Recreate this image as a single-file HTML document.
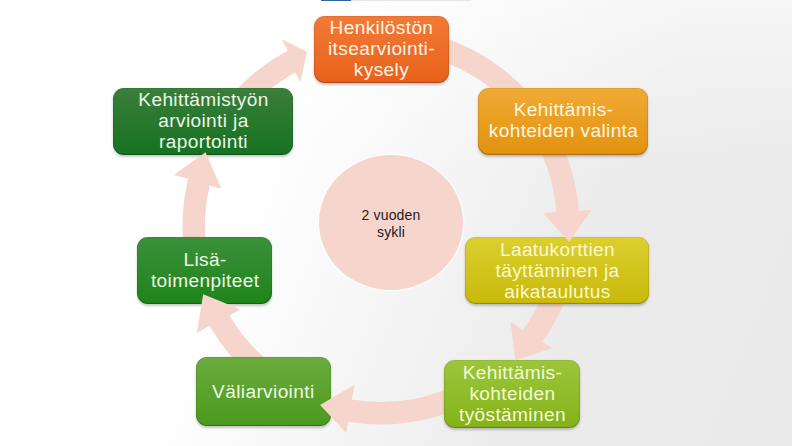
<!DOCTYPE html>
<html><head><meta charset="utf-8"><style>
html,body{margin:0;padding:0;}
body{width:792px;height:446px;overflow:hidden;position:relative;font-family:"Liberation Sans",sans-serif;
background:linear-gradient(180deg,rgba(255,255,255,0.55) 0%,rgba(255,255,255,0) 40%),linear-gradient(112deg,#ffffff 0%,#ffffff 33%,#ebebeb 72%,#eaeaea 100%);}
.topbar{position:absolute;left:321px;top:0;width:150px;height:1px;background:#e6e6e6;}
.topbar i{position:absolute;left:0;top:0;width:30px;height:1px;background:#2f6497;}
.circle{position:absolute;left:319px;top:155px;width:144px;height:135px;border-radius:50%;background:#f6d6cc;box-shadow:0 0 0 1.5px rgba(255,255,255,0.6);}
.ctext{position:absolute;left:319px;top:155px;width:144px;height:135px;display:flex;align-items:center;justify-content:center;text-align:center;font-size:14px;line-height:17px;letter-spacing:0.15px;color:#221a1a;padding-top:1px;}
.arr{position:absolute;left:0;top:0;}
.box{position:absolute;border-radius:11px;box-shadow:inset 0 -1px 1px rgba(0,0,0,0.22),inset 0 0 0 0.6px rgba(0,0,0,0.12),0 1.5px 2.5px rgba(0,0,0,0.22);display:flex;align-items:center;justify-content:center;}
.t{color:#fffbe8;font-size:18px;line-height:21px;letter-spacing:0.35px;margin-left:0.35px;margin-top:1.4px;transform:scaleX(1.06);text-align:center;white-space:nowrap;}
</style></head><body>
<div class="topbar"><i></i></div>
<div class="circle"></div>
<div class="ctext">2 vuoden<br>sykli</div>
<svg class="arr" width="792" height="446" viewBox="0 0 792 446"><path d="M415.5,30.5 A198.5,198.5 0 0 1 543.6,112.1 L554.7,104.4 L551.3,142.9 L513.7,133.1 L525.2,125.1 A176,176 0 0 0 411.6,52.7 Z" fill="#f6d5cc"/></svg><svg class="arr" width="792" height="446" viewBox="0 0 792 446"><path d="M209.1,126.7 A198.5,198.5 0 0 1 287.8,50.7 L281.7,39.3 L307.0,51.7 L300.5,82.0 L295.1,72.4 A176,176 0 0 0 228.6,138.0 Z" fill="#f6d5cc"/></svg><div class="box" style="left:113px;top:88px;width:180px;height:67px;background:linear-gradient(180deg,#3a7e3a,#167222);"><div class="t" style="color:#ecf7e8;margin-top:-0.8px">Kehittämistyön<br>arviointi ja<br>raportointi</div></div><svg class="arr" width="792" height="446" viewBox="0 0 792 446"><path d="M189.3,277.4 A198.5,198.5 0 0 1 188.2,178.7 L173.7,175.1 L205.5,152.2 L221.3,188.6 L209.7,185.8 A176,176 0 0 0 211.0,271.6 Z" fill="#f6d5cc"/></svg><div class="box" style="left:137px;top:237px;width:135px;height:67px;background:linear-gradient(180deg,#3c8f3b,#1e8419);"><div class="t" style="color:#ecf8e6;margin-top:1.2px">Lisä-<br>toimenpiteet</div></div><svg class="arr" width="792" height="446" viewBox="0 0 792 446"><path d="M267.1,388.6 A198.5,198.5 0 0 1 209.4,325.8 L196.9,333.1 L203.2,294.3 L240.3,309.2 L229.5,315.6 A176,176 0 0 0 280.1,370.2 Z" fill="#f6d5cc"/></svg><div class="box" style="left:196px;top:357px;width:135px;height:69px;background:linear-gradient(180deg,#6aab3e,#4b9a1c);"><div class="t" style="color:#eefae4;margin-top:1.4px">Väliarviointi</div></div><svg class="arr" width="792" height="446" viewBox="0 0 792 446"><path d="M480.2,397.9 A198.5,198.5 0 0 1 348.2,421.8 L346.3,433.1 L320.1,404.9 L354.4,384.8 L352.0,399.6 A176,176 0 0 0 469.0,378.4 Z" fill="#f6d5cc"/></svg><div class="box" style="left:444px;top:360px;width:136px;height:68px;background:linear-gradient(180deg,#9cc63c,#84b218);"><div class="t" style="color:#f3fad6;margin-top:0.4px">Kehittämis-<br>kohteiden<br>työstäminen</div></div><svg class="arr" width="792" height="446" viewBox="0 0 792 446"><path d="M576.5,260.5 A198.5,198.5 0 0 1 542.4,341.6 L551.8,348.2 L515.1,360.6 L510.6,321.5 L522.7,330.4 A176,176 0 0 0 554.3,256.6 Z" fill="#f6d5cc"/></svg><div class="box" style="left:465px;top:237px;width:184px;height:67px;background:linear-gradient(180deg,#dccf30,#c9b90a);"><div class="t" style="color:#fbf9cc;margin-top:1.4px">Laatukorttien<br>täyttäminen ja<br>aikataulutus</div></div><svg class="arr" width="792" height="446" viewBox="0 0 792 446"><path d="M552.9,126.7 A198.5,198.5 0 0 1 578.9,210.8 L591.9,209.8 L569.0,242.1 L543.0,213.0 L556.4,211.9 A176,176 0 0 0 533.4,138.0 Z" fill="#f6d5cc"/></svg><div class="box" style="left:478px;top:88px;width:170px;height:67px;background:linear-gradient(180deg,#f0aa35,#e3920e);"><div class="t" style="color:#fff6e0;margin-top:-0.8px">Kehittämis-<br>kohteiden valinta</div></div><div class="box" style="left:314px;top:16px;width:135px;height:67px;background:linear-gradient(180deg,#f27a36,#e8611a);"><div class="t" style="color:#fff4e6;margin-top:0.0px">Henkilöstön<br>itsearviointi-<br>kysely</div></div>
</body></html>
